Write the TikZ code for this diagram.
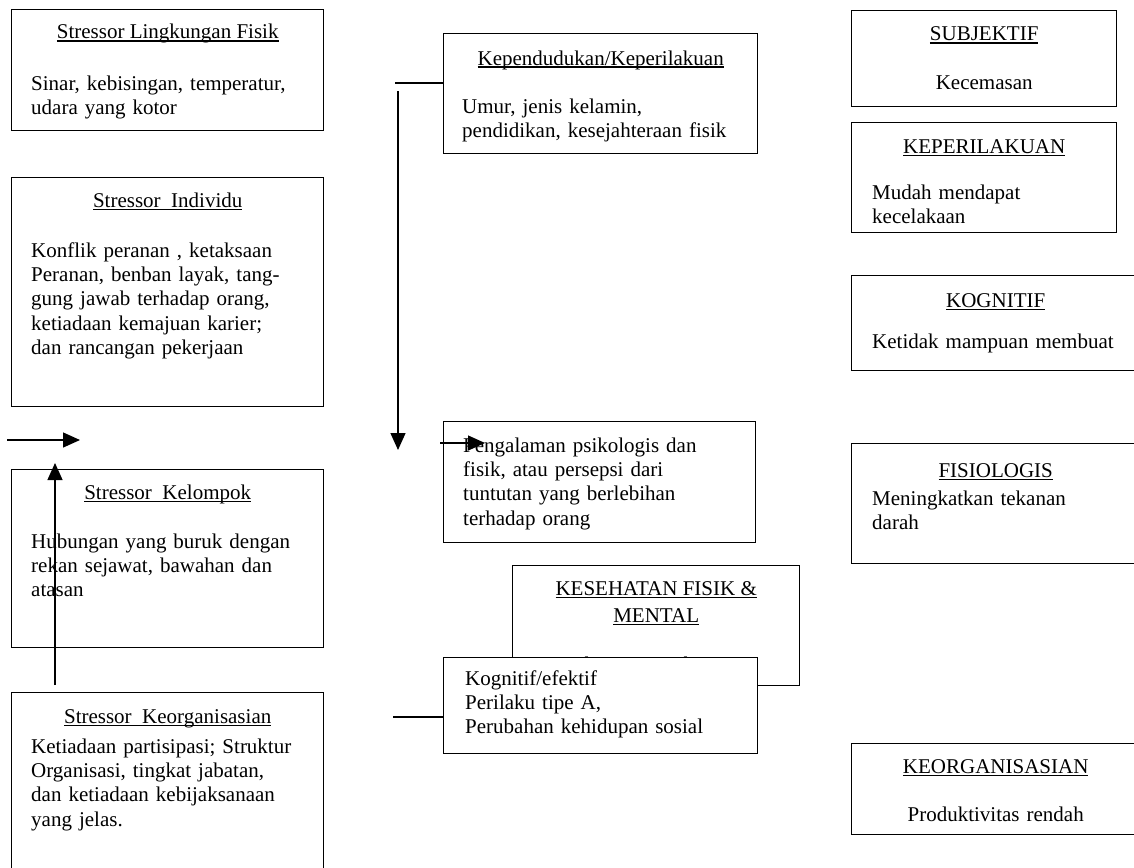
\documentclass[tikz,border=0pt]{standalone}
\usepackage{fontspec}
\setmainfont{Liberation Serif}
\usetikzlibrary{arrows.meta,positioning}

% garis bawah ala pengolah kata
\newcommand\garisbawah[1]{\setbox0=\hbox{#1}\rlap{\rule[-2.6pt]{\wd0}{1.1pt}}\box0}

\tikzset{
  kotak/.style={draw, line width=1.4pt, inner sep=0pt, anchor=north west},
  kotakputih/.style={kotak, fill=white},
  judul/.style={anchor=base, inner sep=0pt, align=center,
    font=\fontsize{21}{24.4}\selectfont},
  isi/.style={anchor=base west, inner sep=0pt, align=left, text width=300pt,
    font=\fontsize{21}{24.4}\selectfont},
  isitengah/.style={isi, anchor=base, align=center},
  panah/.style={line width=1.3pt, -{Triangle[length=17pt,width=15pt]}},
  garis/.style={line width=1.3pt}
}

\begin{document}
\begin{tikzpicture}[x=1pt, y=-1pt]
  \useasboundingbox (0,0) rectangle (1134,867);
  \clip (0,0) rectangle (1134,867);

  % kolom kiri: stressor
  \node[kotak, minimum width=312pt, minimum height=121pt] (fisik) at (11,9) {};
  \node[judul] (tfisik) at ([yshift=-30pt]fisik.north) {\garisbawah{Stressor Lingkungan Fisik}};
  \node[isi] (ifisik) at ([xshift=20pt,yshift=-81pt]fisik.north west)
    {Sinar, kebisingan, temperatur,\\udara yang kotor};

  \node[kotak, minimum width=312pt, minimum height=229pt] (individu) at (11,177) {};
  \node[judul] (tindividu) at ([yshift=-30pt]individu.north) {\garisbawah{Stressor~ Individu}};
  \node[isi] (iindividu) at ([xshift=20pt,yshift=-80pt]individu.north west)
    {Konflik peranan , ketaksaan\\Peranan, benban layak, tang-\\gung jawab terhadap orang,\\ketiadaan kemajuan karier;\\dan rancangan pekerjaan};

  \node[kotak, minimum width=312pt, minimum height=178pt] (kelompok) at (11,469) {};
  \node[judul] (tkelompok) at ([yshift=-30pt]kelompok.north) {\garisbawah{Stressor~ Kelompok}};
  \node[isi] (ikelompok) at ([xshift=20pt,yshift=-79pt]kelompok.north west)
    {Hubungan yang buruk dengan\\rekan sejawat, bawahan dan\\atasan};

  \node[kotak, minimum width=312pt, minimum height=200pt] (keorg) at (11,692) {};
  \node[judul] (tkeorg) at ([yshift=-31pt]keorg.north) {\garisbawah{Stressor~ Keorganisasian}};
  \node[isi] (ikeorg) at ([xshift=20pt,yshift=-61pt]keorg.north west)
    {Ketiadaan partisipasi; Struktur\\Organisasi, tingkat jabatan,\\dan ketiadaan kebijaksanaan\\yang jelas.};

  % kolom tengah
  \node[kotak, minimum width=314pt, minimum height=120pt] (kepend) at (443,33) {};
  \node[judul] (tkepend) at ([yshift=-32pt]kepend.north) {\garisbawah{Kependudukan/Keperilakuan}};
  \node[isi] (ikepend) at ([xshift=19pt,yshift=-80pt]kepend.north west)
    {Umur, jenis kelamin,\\pendidikan, kesejahteraan fisik};

  \node[kotak, minimum width=312pt, minimum height=121pt] (pengalaman) at (443,421) {};
  \node[isi] (ipengalaman) at ([xshift=20pt,yshift=-31pt]pengalaman.north west)
    {Pengalaman psikologis dan\\fisik, atau persepsi dari\\tuntutan yang berlebihan\\terhadap orang};

  \node[kotak, minimum width=287pt, minimum height=120pt] (kesehatan) at (512,565) {};
  \node[judul] (tkesehatan) at ([yshift=-30pt]kesehatan.north) {\garisbawah{KESEHATAN FISIK \&}};
  \node[judul] (tkesehatanb) at ([yshift=-57pt]kesehatan.north) {\garisbawah{MENTAL}};
  \node[isi] (ikesehatan) at ([xshift=21pt,yshift=-106pt]kesehatan.north west)
    {Penyakit jantung koroner};

  \node[kotakputih, minimum width=314pt, minimum height=96pt] (kognitif) at (443,657) {};
  \node[isi] (ikognitif) at ([xshift=22pt,yshift=-28pt]kognitif.north west)
    {Kognitif/efektif\\Perilaku tipe A,\\Perubahan kehidupan sosial};

  % kolom kanan: akibat
  \node[kotak, minimum width=265pt, minimum height=96pt] (subjektif) at (851,10) {};
  \node[judul] (tsubjektif) at ([yshift=-31pt]subjektif.north) {\garisbawah{SUBJEKTIF}};
  \node[isitengah] (isubjektif) at ([yshift=-79pt]subjektif.north) {Kecemasan};

  \node[kotak, minimum width=265pt, minimum height=110pt] (perilaku) at (851,122) {};
  \node[judul] (tperilaku) at ([yshift=-31pt]perilaku.north) {\garisbawah{KEPERILAKUAN}};
  \node[isi] (iperilaku) at ([xshift=21pt,yshift=-77pt]perilaku.north west)
    {Mudah mendapat\\kecelakaan};

  \node[kotak, minimum width=288pt, minimum height=95pt] (kogkanan) at (851,275) {};
  \node[judul] (tkogkanan) at ([yshift=-32pt]kogkanan.north) {\garisbawah{KOGNITIF}};
  \node[isi] (ikogkanan) at ([xshift=21pt,yshift=-73pt]kogkanan.north west)
    {Ketidak mampuan membuat};

  \node[kotak, minimum width=288pt, minimum height=120pt] (fisiologis) at (851,443) {};
  \node[judul] (tfisiologis) at ([yshift=-34pt]fisiologis.north) {\garisbawah{FISIOLOGIS}};
  \node[isi] (ifisiologis) at ([xshift=21pt,yshift=-62pt]fisiologis.north west)
    {Meningkatkan tekanan\\darah};

  \node[kotak, minimum width=288pt, minimum height=91pt] (organisasi) at (851,743) {};
  \node[judul] (torganisasi) at ([yshift=-30pt]organisasi.north) {\garisbawah{KEORGANISASIAN}};
  \node[isitengah] (iorganisasi) at ([yshift=-78pt]organisasi.north) {Produktivitas rendah};

  % garis dan panah
  \coordinate (a1) at (7,440);
  \coordinate (b1) at (80,440);
  \draw[panah] (a1) -- (b1);
  \coordinate (a2) at (55,685);
  \coordinate (b2) at (55,463);
  \draw[panah] (a2) -- (b2);
  \coordinate (a3) at (395,83);
  \draw[garis] (a3) -- (a3 -| kepend.west);
  \coordinate (a4) at (398,91);
  \coordinate (b4) at (398,450);
  \draw[panah] (a4) -- (b4);
  \coordinate (a5) at (440,443);
  \coordinate (b5) at (485,443);
  \draw[panah] (a5) -- (b5);
  \coordinate (a6) at (393,717);
  \draw[garis] (a6) -- (a6 -| kognitif.west);
\end{tikzpicture}
\end{document}
